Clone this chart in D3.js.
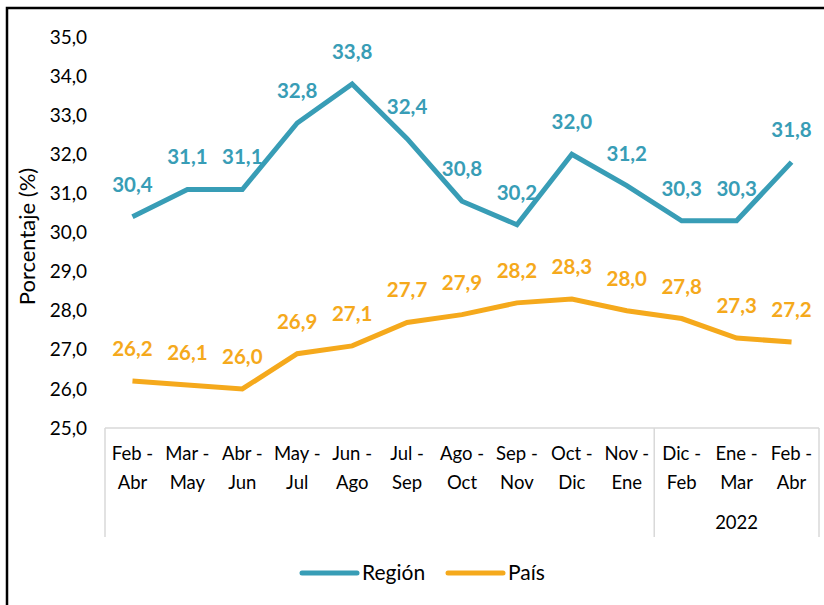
<!DOCTYPE html>
<html>
<head>
<meta charset="utf-8">
<script src="https://cdn.jsdelivr.net/npm/d3@7/dist/d3.min.js"></script>
<style>
  body { margin: 0; background: #fff; }
  svg { display: block; font-family: Lato, "Open Sans", sans-serif; }
</style>
</head>
<body>
<svg id="chart" width="824" height="605"></svg>
<script>
// periods (two-line labels) and values
var periods = [
  ["Feb -", "Abr"], ["Mar -", "May"], ["Abr -", "Jun"], ["May -", "Jul"],
  ["Jun -", "Ago"], ["Jul -", "Sep"], ["Ago -", "Oct"], ["Sep -", "Nov"],
  ["Oct -", "Dic"], ["Nov -", "Ene"], ["Dic -", "Feb"], ["Ene -", "Mar"],
  ["Feb -", "Abr"]
];
var region = [30.4, 31.1, 31.1, 32.8, 33.8, 32.4, 30.8, 30.2, 32.0, 31.2, 30.3, 30.3, 31.8];
var pais = [26.2, 26.1, 26.0, 26.9, 27.1, 27.7, 27.9, 28.2, 28.3, 28.0, 27.8, 27.3, 27.2];
var yTicks = [25, 26, 27, 28, 29, 30, 31, 32, 33, 34, 35];
var yearLabel = "2022";
var yearStart = 10; // index where 2022 group starts
var seriesNames = ["Región", "País"];
var colors = ["#389db6", "#f5a91c"];

var svg = d3.select("#chart");
var comma = function(v) { return d3.format(".1f")(v).replace(".", ","); };

// outer frame
svg.append("rect")
  .attr("x", 7).attr("y", 8)
  .attr("width", 830).attr("height", 620)
  .attr("fill", "none")
  .attr("stroke", "#000")
  .attr("stroke-width", 2.5);

var plotLeft = 105, plotRight = 819, plotTop = 37, plotBottom = 428;

var x = d3.scaleBand()
  .domain(d3.range(periods.length))
  .range([plotLeft, plotRight]);

var y = d3.scaleLinear()
  .domain([25, 35])
  .range([plotBottom, plotTop]);

var cx = function(i) { return x(i) + x.bandwidth() / 2; };

// y axis labels (no line)
svg.append("g")
  .selectAll("text")
  .data(yTicks)
  .enter().append("text")
    .attr("x", 87)
    .attr("y", function(d) { return y(d); })
    .attr("dy", "0.35em")
    .attr("text-anchor", "end")
    .attr("font-size", 19)
    .attr("fill", "#000")
    .text(comma);

svg.append("text")
  .attr("transform", "translate(35," + ((plotTop + plotBottom) / 2 + 4) + ") rotate(-90)")
  .attr("text-anchor", "middle")
  .attr("font-size", 22)
  .attr("fill", "#000")
  .text("Porcentaje (%)");

// category axis box
var axisColor = "#d9d9d9";
var boxBottom = 537;
svg.append("line")
  .attr("x1", plotLeft).attr("x2", plotRight)
  .attr("y1", plotBottom).attr("y2", plotBottom)
  .attr("stroke", axisColor).attr("stroke-width", 1.5);
[plotLeft, x(yearStart), plotRight].forEach(function(xx) {
  svg.append("line")
    .attr("x1", xx).attr("x2", xx)
    .attr("y1", plotBottom).attr("y2", boxBottom)
    .attr("stroke", axisColor).attr("stroke-width", 1.5);
});

var cats = svg.append("g")
  .selectAll("text")
  .data(periods)
  .enter().append("text")
    .attr("text-anchor", "middle")
    .attr("font-size", 18.5)
    .attr("fill", "#000");
cats.append("tspan")
  .attr("x", function(d, i) { return cx(i); })
  .attr("y", 460)
  .text(function(d) { return d[0]; });
cats.append("tspan")
  .attr("x", function(d, i) { return cx(i); })
  .attr("y", 489)
  .text(function(d) { return d[1]; });

svg.append("text")
  .attr("x", (x(yearStart) + plotRight) / 2)
  .attr("y", 529)
  .attr("text-anchor", "middle")
  .attr("font-size", 18.5)
  .attr("fill", "#000")
  .text(yearLabel);

// lines
var line = d3.line()
  .x(function(d, i) { return cx(i); })
  .y(function(d) { return y(d); });

[region, pais].forEach(function(data, k) {
  svg.append("path")
    .datum(data)
    .attr("fill", "none")
    .attr("stroke", colors[k])
    .attr("stroke-width", 5)
    .attr("stroke-linejoin", "miter")
    .attr("d", line);

  svg.append("g")
    .selectAll("text")
    .data(data)
    .enter().append("text")
      .attr("x", function(d, i) { return cx(i); })
      .attr("y", function(d) { return y(d) - 25; })
      .attr("text-anchor", "middle")
      .attr("font-size", 20.5)
      .attr("font-weight", "bold")
      .attr("fill", colors[k])
      .text(comma);
});

// legend
var legendX = [302, 448];
seriesNames.forEach(function(name, k) {
  svg.append("line")
    .attr("x1", legendX[k]).attr("x2", legendX[k] + 55)
    .attr("y1", 573).attr("y2", 573)
    .attr("stroke", colors[k])
    .attr("stroke-width", 5)
    .attr("stroke-linecap", "round");
  svg.append("text")
    .attr("x", legendX[k] + 60)
    .attr("y", 573)
    .attr("dy", "0.35em")
    .attr("font-size", 21)
    .attr("fill", "#000")
    .text(name);
});
</script>
</body>
</html>
